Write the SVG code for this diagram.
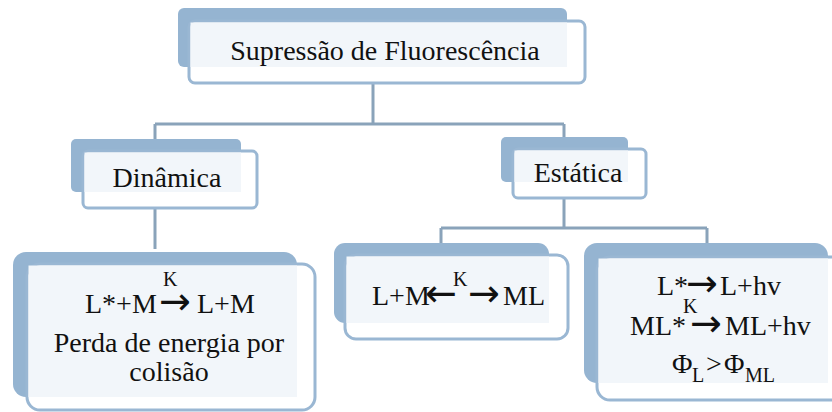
<svg xmlns="http://www.w3.org/2000/svg" width="832" height="412" viewBox="0 0 832 412">
<style>
.back{fill:#95b4d1;}
.front{fill:#ffffff;stroke:#9ab7d3;stroke-width:3;}
.ov{fill:#f2f6fa;}
.t{font-size:28px;fill:#111;}
.k{font-size:20px;fill:#111;}
.a{font-family:'DejaVu Sans',sans-serif;font-size:38px;fill:#111;}
.conn{fill:none;stroke:#8aa3ba;stroke-width:3;}
</style>
<rect width="832" height="412" fill="#ffffff"/>
<g id="connectors">
<path class="conn" d="M373,83 V124 M155,124 H564 M155,124 V139 M564,124 V137 M155,208 V249 M564,198 V228 M441,228 H707 M441,228 V243 M707,228 V243"/>
</g>
<g font-family="Liberation Serif, Tinos, DejaVu Serif, serif">
<g id="node-top">
<rect class="back" x="178" y="8" width="389" height="59" rx="6"/>
<rect class="front" x="189" y="21" width="396" height="62" rx="6"/>
<rect class="ov" x="190.5" y="22.5" width="376.5" height="44.5"/>
<text class="t" x="385" y="60" text-anchor="middle">Supressão de Fluorescência</text>
</g>
<g id="node-dinamica">
<rect class="back" x="71" y="139" width="170" height="53" rx="5"/>
<rect class="front" x="83" y="151" width="174" height="57" rx="5"/>
<rect class="ov" x="84.5" y="152.5" width="156.5" height="39.5"/>
<text class="t" x="167" y="187" text-anchor="middle">Dinâmica</text>
</g>
<g id="node-estatica">
<rect class="back" x="501" y="137" width="127" height="45" rx="5"/>
<rect class="front" x="513" y="149" width="133" height="49" rx="5"/>
<rect class="ov" x="514.5" y="150.5" width="113.5" height="31.5"/>
<text class="t" x="578" y="182" text-anchor="middle">Estática</text>
</g>
<g id="node-left">
<rect class="back" x="13" y="252" width="284" height="145" rx="13"/>
<rect class="front" x="27" y="264" width="288" height="146" rx="13"/>
<rect class="ov" x="28.5" y="265.5" width="268.5" height="131.5"/>
<text class="t" x="85" y="313">L*+M</text>
<text class="k" x="163" y="286">K</text>
<text class="a" x="159" y="314">→</text>
<text class="t" x="197" y="313">L+M</text>
<text class="t" x="169" y="352" text-anchor="middle">Perda de energia por</text>
<text class="t" x="169" y="381" text-anchor="middle">colisão</text>
</g>
<g id="node-middle">
<rect class="back" x="334" y="243" width="215" height="80" rx="11"/>
<rect class="front" x="345" y="255" width="223" height="84" rx="11"/>
<rect class="ov" x="346.5" y="256.5" width="202.5" height="66.5"/>
<text class="t" x="372" y="305">L+M</text>
<text class="a" x="425" y="306">←</text>
<text class="k" x="453" y="286">K</text>
<text class="a" x="468" y="306">→</text>
<text class="t" x="503" y="305">ML</text>
</g>
<g id="node-right">
<rect class="back" x="584" y="243" width="244" height="140" rx="13"/>
<rect class="front" x="597" y="257" width="250" height="143" rx="13"/>
<rect class="ov" x="598.5" y="258.5" width="229.5" height="124.5"/>
<text class="t" x="657" y="295">L*</text>
<text class="a" x="686" y="296">→</text>
<text class="t" x="720" y="295">L+hv</text>
<text class="k" x="683" y="313">K</text>
<text class="t" x="630" y="335">ML*</text>
<text class="a" x="690" y="336">→</text>
<text class="t" x="725" y="335">ML+hv</text>
<text class="t" x="672" y="373">Φ</text>
<text class="k" x="692" y="382">L</text>
<text class="t" x="706" y="373">&gt;</text>
<text class="t" x="724" y="373">Φ</text>
<text class="k" x="745" y="382">ML</text>
</g>
</g>
</svg>
